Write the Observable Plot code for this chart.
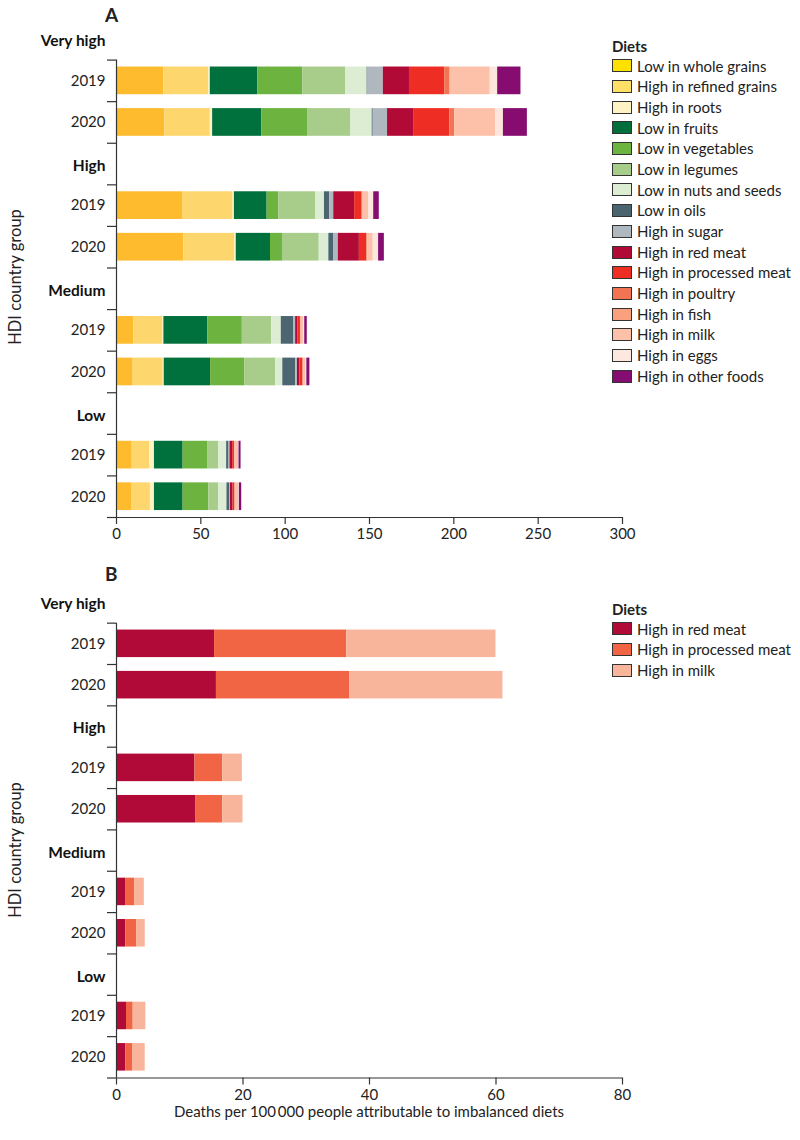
<!DOCTYPE html>
<html>
<head>
<meta charset="utf-8">
<script src="https://cdn.jsdelivr.net/npm/d3@7"></script>
<script src="https://cdn.jsdelivr.net/npm/@observablehq/plot@0.6"></script>
<style>
  html, body { margin: 0; padding: 0; background: #fff; }
  body { font-family: Lato, "Open Sans", sans-serif; color: #222; }
  #wrap { position: relative; width: 800px; height: 1140px; overflow: hidden; }
  .panel { position: absolute; left: 0; }
  .letter { position: absolute; font-weight: bold; font-size: 19px; line-height: 20px; }
  .ytitle { position: absolute; font-size: 16.5px; white-space: nowrap; transform: translate(-50%, -50%) rotate(-90deg); }
  .xtitle { position: absolute; font-size: 15px; white-space: nowrap; transform: translateX(-50%); }
  .legend { position: absolute; font-size: 15px; }
  .legend .lt { font-weight: bold; height: 19px; line-height: 19px; }
  .legend .it { height: 20.7px; line-height: 20.7px; display: flex; align-items: center; white-space: nowrap; }
  .legend .sw { width: 18px; height: 11px; border: 1px solid #333; margin-right: 5px; flex: none; }
</style>
</head>
<body>
<div id="wrap"></div>
<script>
// ---------------- data ----------------
const groups = ["Very high", "High", "Medium", "Low"];
const years = ["2019", "2020"];

const dietsA = [
  "Low in whole grains", "High in refined grains", "High in roots", "Low in fruits",
  "Low in vegetables", "Low in legumes", "Low in nuts and seeds", "Low in oils",
  "High in sugar", "High in red meat", "High in processed meat", "High in poultry",
  "High in fish", "High in milk", "High in eggs", "High in other foods"
];
const barColorsA = [
  "#fdbb2d", "#fed66e", "#fff2c4", "#00703c", "#6db33f", "#a8cd8a", "#ddedd4", "#4b6670",
  "#b0b8bf", "#b10a37", "#ee2d24", "#f37453", "#f9a07f", "#fdc1a9", "#fde7dd", "#860c70"
];
const legendColorsA = [
  "#ffe100", "#ffe066", "#fff3c6", "#006f3c", "#6db33f", "#a6ce8a", "#ddedd4", "#4a6570",
  "#b0b8bf", "#b10a37", "#ee2d24", "#f37453", "#f9a07f", "#fdc1a9", "#fde8df", "#850c70"
];

// Panel A values (deaths per 100 000), in the order of dietsA
const aVeryHigh2019 = [28.0, 26.6, 1.0, 28.2, 26.6, 25.4, 12.8, 0.5, 9.1, 15.5, 20.9, 3.0, 0.4, 23.6, 4.4, 13.8];
const aVeryHigh2020 = [28.6, 27.0, 1.4, 29.2, 27.4, 25.4, 12.6, 0.6, 8.5, 15.8, 21.1, 2.8, 0.3, 24.2, 4.5, 14.2];
const aHigh2019     = [39.5, 29.6, 0.8, 19.4, 6.9, 21.8, 5.3, 3.1, 2.4, 12.4, 4.4, 0.4, 0.3, 3.1, 3.1, 3.3];
const aHigh2020     = [39.9, 30.1, 1.0, 20.3, 7.1, 21.8, 5.7, 3.0, 2.6, 12.5, 4.3, 0.4, 0.3, 3.2, 3.2, 3.4];
const aMedium2019   = [10.3, 17.2, 0.6, 26.1, 20.4, 17.4, 5.7, 7.5, 1.0, 1.43, 1.43, 0.3, 0.2, 1.54, 0.5, 1.5];
const aMedium2020   = [9.9, 17.8, 0.6, 27.5, 20.2, 18.4, 4.2, 7.7, 1.0, 1.47, 1.70, 0.3, 0.2, 1.38, 0.5, 1.8];
const aLow2019      = [9.3, 10.4, 2.8, 17.0, 14.8, 6.3, 4.7, 1.4, 0.6, 1.58, 1.06, 0.2, 0.2, 2.0, 0.3, 1.2];
const aLow2020      = [8.9, 11.2, 2.4, 17.0, 15.2, 5.9, 4.9, 1.5, 0.6, 1.47, 1.06, 0.2, 0.2, 2.01, 0.3, 1.4];

const dietsB = ["High in red meat", "High in processed meat", "High in milk"];
const colorsB = ["#b10a38", "#f26544", "#f9b59b"];
const bVeryHigh2019 = [15.5, 20.9, 23.6];
const bVeryHigh2020 = [15.8, 21.1, 24.2];
const bHigh2019     = [12.4, 4.4, 3.1];
const bHigh2020     = [12.5, 4.3, 3.2];
const bMedium2019   = [1.43, 1.43, 1.54];
const bMedium2020   = [1.47, 1.70, 1.38];
const bLow2019      = [1.58, 1.06, 2.0];
const bLow2020      = [1.47, 1.06, 2.01];

const ticksA = [0, 50, 100, 150, 200, 250, 300];
const ticksB = [0, 20, 40, 60, 80];

// ---------------- helpers ----------------
const seriesA = [[aVeryHigh2019, aVeryHigh2020], [aHigh2019, aHigh2020], [aMedium2019, aMedium2020], [aLow2019, aLow2020]];
const seriesB = [[bVeryHigh2019, bVeryHigh2020], [bHigh2019, bHigh2020], [bMedium2019, bMedium2020], [bLow2019, bLow2020]];

function buildRows() {
  const headers = [], yearRows = [];
  groups.forEach((g, gi) => {
    headers.push({row: gi * 3, label: g});
    years.forEach((y, yi) => yearRows.push({row: gi * 3 + 1 + yi, label: y, gi, yi}));
  });
  return {headers, yearRows};
}

function buildSegments(series, diets) {
  const out = [];
  const {yearRows} = buildRows();
  for (const r of yearRows) {
    const vals = series[r.gi][r.yi];
    let acc = 0;
    vals.forEach((v, i) => {
      out.push({row: r.row, diet: diets[i], x1: acc, x2: acc + v});
      acc += v;
    });
  }
  return out;
}

function chart({series, diets, colors, xDomain, xTicks, height, marginBottom, yTop}) {
  const {headers, yearRows} = buildRows();
  const segs = buildSegments(series, diets);
  const nRows = groups.length * 3;
  const bounds = d3.range(nRows).map(i => i + 0.5);
  const half = 0.333;
  return Plot.plot({
    width: 800,
    height,
    marginLeft: 116,
    marginRight: 178,
    marginTop: yTop,
    marginBottom,
    style: {fontFamily: "Lato, 'Open Sans', sans-serif", fontSize: "15px", color: "#222", background: "#fff"},
    x: {domain: xDomain, label: null},
    y: {domain: [-0.5, nRows - 0.5], reverse: true, axis: null, label: null},
    color: {domain: diets, range: colors},
    marks: [
      Plot.rect(segs, {x1: "x1", x2: "x2", y1: d => d.row - half, y2: d => d.row + half, fill: "diet"}),
      Plot.ruleX([0], {y1: 0.5, y2: nRows - 0.5, stroke: "#333", strokeWidth: 1.2}),
      Plot.ruleY([nRows - 0.5], {stroke: "#333", strokeWidth: 1.2}),
      Plot.axisY(bounds, {anchor: "left", tickSize: 9, tickFormat: () => "", stroke: "#333", strokeWidth: 1.2, label: null}),
      Plot.axisX(xTicks, {anchor: "bottom", tickSize: 7, tickPadding: 4, stroke: "#333", strokeWidth: 1.2, fontSize: 15, label: null, fill: "#222"}),
      Plot.text(yearRows, {x: 0, y: "row", text: "label", dx: -11, textAnchor: "end", fontSize: 15, fill: "#222"}),
      Plot.text(headers, {x: 0, y: "row", text: "label", dx: -11, dy: 2, textAnchor: "end", fontSize: 15.5, fontWeight: "bold", fill: "#111"})
    ]
  });
}

function legend(title, names, colors, left, top) {
  const div = document.createElement("div");
  div.className = "legend";
  div.style.left = left + "px";
  div.style.top = top + "px";
  const t = document.createElement("div");
  t.className = "lt";
  t.textContent = title;
  div.appendChild(t);
  names.forEach((n, i) => {
    const it = document.createElement("div");
    it.className = "it";
    const sw = document.createElement("span");
    sw.className = "sw";
    sw.style.background = colors[i];
    const tx = document.createElement("span");
    tx.textContent = n;
    it.appendChild(sw);
    it.appendChild(tx);
    div.appendChild(it);
  });
  return div;
}

function addText(cls, text, left, top) {
  const d = document.createElement("div");
  d.className = cls;
  d.textContent = text;
  d.style.left = left + "px";
  d.style.top = top + "px";
  wrap.appendChild(d);
}

const wrap = document.getElementById("wrap");

// Panel A
const svgA = chart({series: seriesA, diets: dietsA, colors: barColorsA, xDomain: [0, 300], xTicks: ticksA,
  height: 555, marginBottom: 38, yTop: 18});
const pa = document.createElement("div");
pa.className = "panel"; pa.style.top = "0px";
pa.appendChild(svgA);
wrap.appendChild(pa);

// Panel B
const svgB = chart({series: seriesB, diets: dietsB, colors: colorsB, xDomain: [0, 80], xTicks: ticksB,
  height: 577, marginBottom: 62.5, yTop: 18.3});
const pb = document.createElement("div");
pb.className = "panel"; pb.style.top = "563px";
pb.appendChild(svgB);
wrap.appendChild(pb);

addText("letter", "A", 105, 5);
addText("letter", "B", 105, 564);
addText("ytitle", "HDI country group", 15, 277);
addText("ytitle", "HDI country group", 15, 850);
addText("xtitle", "Deaths per 100\u2009000 people attributable to imbalanced diets", 369, 1102);

wrap.appendChild(legend("Diets", dietsA, legendColorsA, 612, 36.5));
wrap.appendChild(legend("Diets", dietsB, colorsB, 612, 599.5));
</script>
</body>
</html>
